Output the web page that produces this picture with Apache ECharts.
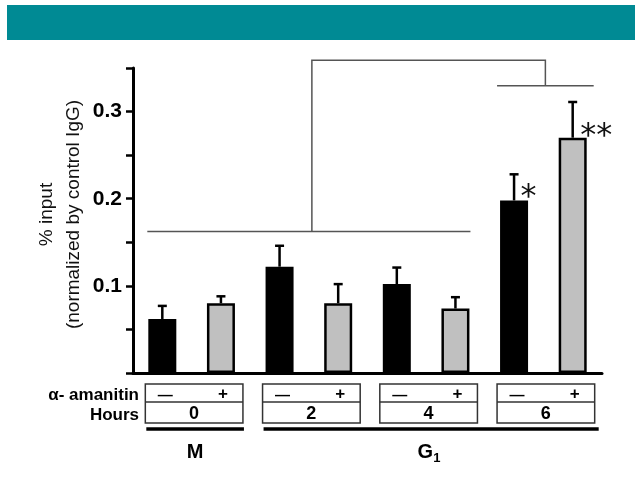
<!DOCTYPE html>
<html>
<head>
<meta charset="utf-8">
<script src="https://cdn.jsdelivr.net/npm/echarts@6/dist/echarts.min.js"></script>
<style>
  html, body { margin: 0; padding: 0; background: #fff; }
  #main { width: 635px; height: 481px; }
</style>
</head>
<body>
<div id="main"></div>
<script>
// bar values (% input, normalized by control IgG)
var amanitin = ['\u2014', '+', '\u2014', '+', '\u2014', '+', '\u2014', '+'];
var hours = ['0', '2', '4', '6'];
var phases = [['M', 0, 1], ['G', 2, 7]];
var values = [0.062, 0.080, 0.122, 0.080, 0.102, 0.074, 0.198, 0.270];
var errors = [0.015, 0.008, 0.024, 0.022, 0.019, 0.013, 0.030, 0.041];
var stars = ['', '', '', '', '', '', '*', '**'];
var yTicks = [0.1, 0.2, 0.3];
// significance brackets: [left from, left to, left level, right from, right to, right level, top level]
var brackets = [[0, 5, 0.1625, 6, 7, 0.3295, 0.359]];

var narrow = "'Liberation Sans Narrow', 'Arial Narrow', 'Liberation Sans', sans-serif";
var regular = "'Liberation Sans', Arial, sans-serif";

var myChart = echarts.init(document.getElementById('main'), null, { renderer: 'canvas' });

var barData = values.map(function (v, i) {
	var item = {
		value: v,
		itemStyle: { color: amanitin[i] == '+' ? '#c0c0c0' : '#000' }
	};
	if (stars[i]) {
		item.label = {
			show: true,
			formatter: stars[i],
			position: stars[i].length > 1 ? [37.5, -1.5] : [28.5, -2.5],
			align: 'center',
			verticalAlign: 'middle',
			fontSize: 32,
			fontFamily: "'DejaVu Sans', sans-serif",
			color: '#111'
		};
	}
	return item;
});

var option = {
	animation: false,
	grid: { left: 133, right: 33, top: 68, bottom: 108 },
	graphic: [],
	xAxis: {
		type: 'category',
		data: amanitin,
		axisLine: { lineStyle: { color: '#000', width: 3 } },
		axisTick: { show: false },
		axisLabel: { show: false }
	},
	yAxis: {
		type: 'value',
		min: 0,
		max: 0.35,
		interval: 0.05,
		name: '% input\n(normalized by control IgG)',
		nameLocation: 'middle',
		nameRotate: 90,
		nameGap: 46,
		nameMoveOverlap: false,
		nameTextStyle: { fontSize: 19, lineHeight: 27, fontFamily: regular, color: '#111', padding: [0, 0, 0, 12] },
		axisLine: { show: true, lineStyle: { color: '#000', width: 3 } },
		axisTick: { show: true, length: 7, lineStyle: { color: '#000', width: 2.5 } },
		axisLabel: {
			margin: 11,
			fontSize: 21,
			fontWeight: 'bold',
			fontFamily: narrow,
			color: '#000',
			formatter: function (v) {
				for (var i = 0; i < yTicks.length; i++) {
					if (Math.abs(v - yTicks[i]) < 1e-6) return String(yTicks[i]);
				}
				return '';
			}
		},
		splitLine: { show: false }
	},
	series: [
		{
			type: 'bar',
			data: barData,
			barWidth: 28,
			itemStyle: { borderColor: '#000', borderWidth: 2.5 },
			z: 3
		},
		{
			// error bars
			type: 'custom',
			z: 2,
			data: values.map(function (v, i) { return [i, v, errors[i]]; }),
			renderItem: function (params, api) {
				var base = api.coord([api.value(0), api.value(1)]);
				var top = api.coord([api.value(0), api.value(1) + api.value(2)]);
				var st = { stroke: '#000', lineWidth: 2.5 };
				return {
					type: 'group',
					children: [
						{ type: 'line', shape: { x1: base[0], y1: base[1], x2: top[0], y2: top[1] }, style: st },
						{ type: 'line', shape: { x1: top[0] - 4.5, y1: top[1], x2: top[0] + 4.5, y2: top[1] }, style: st }
					]
				};
			}
		},
		{
			// significance brackets
			type: 'custom',
			clip: false,
			z: 1,
			data: brackets,
			renderItem: function (params, api) {
				var half = 15;
				var l1 = api.coord([api.value(0), api.value(2)]);
				var l2 = api.coord([api.value(1), api.value(2)]);
				var r1 = api.coord([api.value(3), api.value(5)]);
				var r2 = api.coord([api.value(4), api.value(5)]);
				var topY = api.coord([0, api.value(6)])[1];
				var lx1 = l1[0] - half, lx2 = l2[0] + half;
				var rx1 = r1[0] - half - 2, rx2 = r2[0] + half + 6;
				var lm = (lx1 + lx2) / 2 + 3, rm = (rx1 + rx2) / 2;
				var st = { stroke: '#555', lineWidth: 1.5, fill: null };
				return {
					type: 'group',
					children: [
						{ type: 'line', shape: { x1: lx1, y1: l1[1], x2: lx2, y2: l1[1] }, style: st },
						{ type: 'line', shape: { x1: rx1, y1: r1[1], x2: rx2, y2: r1[1] }, style: st },
						{ type: 'polyline', shape: { points: [[lm, l1[1]], [lm, topY], [rm, topY], [rm, r1[1]]] }, style: st }
					]
				};
			}
		}
	]
};

myChart.setOption(option);

// banner, treatment table and phase labels
function buildTable() {
	var cx = function (i) { return myChart.convertToPixel({ xAxisIndex: 0 }, i); };
	var g = [];
	g.push({ type: 'rect', shape: { x: 7, y: 5, width: 628, height: 35 }, style: { fill: '#008a94' } });
	var boxTop = 384, boxMid = 402, boxBot = 423;
	var lineStyle = { stroke: '#333', lineWidth: 1.5, fill: null };
	g.push({ type: 'text', x: 139, y: 395, style: { text: '\u03b1- amanitin', align: 'right', verticalAlign: 'middle', font: 'bold 17px ' + narrow, fill: '#000' } });
	g.push({ type: 'text', x: 139, y: 415, style: { text: 'Hours', align: 'right', verticalAlign: 'middle', font: 'bold 17px ' + narrow, fill: '#000' } });
	for (var h = 0; h < hours.length; h++) {
		var a = cx(h * 2), b = cx(h * 2 + 1);
		var x1 = a - 17, x2 = b + 22;
		g.push({ type: 'rect', shape: { x: x1, y: boxTop, width: x2 - x1, height: boxBot - boxTop }, style: lineStyle });
		g.push({ type: 'line', shape: { x1: x1, y1: boxMid, x2: x2, y2: boxMid }, style: lineStyle });
		g.push({ type: 'text', x: a + 3, y: 396, style: { text: amanitin[h * 2], align: 'center', verticalAlign: 'middle', font: 'bold 15px ' + regular, fill: '#000' } });
		g.push({ type: 'text', x: b + 2, y: 394, style: { text: amanitin[h * 2 + 1], align: 'center', verticalAlign: 'middle', font: 'bold 17px ' + regular, fill: '#000' } });
		g.push({ type: 'text', x: (x1 + x2) / 2, y: 414, style: { text: hours[h], align: 'center', verticalAlign: 'middle', font: 'bold 18px ' + narrow, fill: '#000' } });
	}
	phases.forEach(function (p) {
		var x1 = cx(p[1]) - 16, x2 = cx(p[2]) + 26;
		if (p[1] == 0) x2 = cx(p[2]) + 23;
		g.push({ type: 'line', shape: { x1: x1, y1: 429, x2: x2, y2: 429 }, style: { stroke: '#000', lineWidth: 3.5 } });
		var mid = p[0] == 'M' ? (x1 + x2) / 2 : 429;
		g.push({
			type: 'text', x: mid, y: 452,
			style: {
				text: p[0] == 'M' ? 'M' : '{b|G}{s|1}',
				align: 'center', verticalAlign: 'middle',
				rich: {
					b: { font: 'bold 20px ' + narrow, fill: '#000', color: '#000' },
					s: { font: 'bold 13px ' + narrow, fill: '#000', color: '#000', padding: [12, 0, 0, 0] }
				},
				font: 'bold 20px ' + narrow, fill: '#000'
			}
		});
	});
	myChart.setOption({ graphic: g });
}
buildTable();
</script>
</body>
</html>
